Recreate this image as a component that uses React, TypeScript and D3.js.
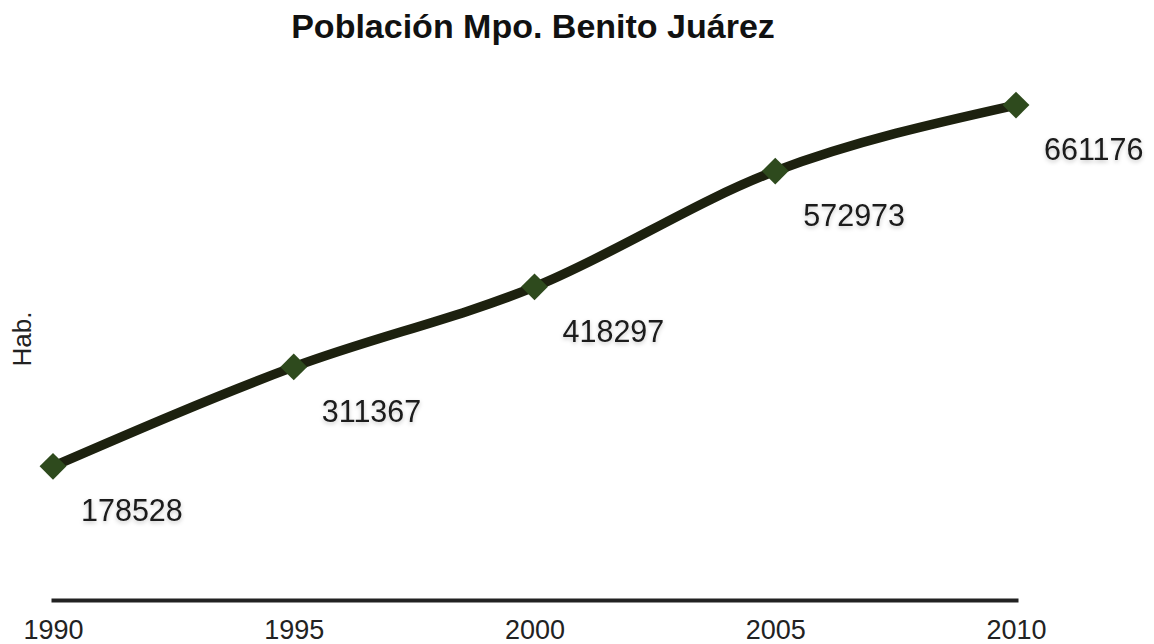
import React, { useEffect, useRef } from "react";
import * as d3 from "d3";

const years = [1990, 1995, 2000, 2005, 2010];
const population = [178528, 311367, 418297, 572973, 661176];

const App = () => {
  const chart = useRef<SVGSVGElement>(null);

  useEffect(() => {
    const width = 1154;
    const height = 644;
    const font = "'Liberation Sans', Arial, Helvetica, sans-serif";

    const svg = d3.select(chart.current).attr("width", width).attr("height", height);
    svg.selectAll("*").remove();

    // soft shadow under value labels
    const defs = svg.append("defs");
    defs
      .append("filter")
      .attr("id", "shadow")
      .attr("x", "-20%")
      .attr("y", "-30%")
      .attr("width", "140%")
      .attr("height", "170%")
      .append("feDropShadow")
      .attr("dx", 0)
      .attr("dy", 2)
      .attr("stdDeviation", 2)
      .attr("flood-color", "#000")
      .attr("flood-opacity", 0.22);

    const x = d3.scaleLinear().domain([1990, 2010]).range([53, 1016]);
    const y = d3.scaleLinear().domain([0, 700000]).range([600, 76]);

    const data = years.map((yr, i) => ({ year: yr, value: population[i] }));

    // title
    svg
      .append("text")
      .attr("x", 533)
      .attr("y", 38)
      .attr("text-anchor", "middle")
      .attr("font-family", font)
      .attr("font-weight", "bold")
      .attr("font-size", 34)
      .attr("fill", "#111")
      .text("Población Mpo. Benito Juárez");

    // y label
    svg
      .append("text")
      .attr("transform", "translate(31, 339) rotate(-90)")
      .attr("text-anchor", "middle")
      .attr("font-family", font)
      .attr("font-size", 26)
      .attr("fill", "#222")
      .text("Hab.");

    // x axis
    const xAxis = d3.axisBottom(x).tickValues(years).tickFormat(d3.format("d")).tickSize(0).tickSizeOuter(0);
    const ax = svg.append("g").attr("transform", `translate(0, ${y(0)})`).call(xAxis);
    ax.select(".domain").attr("stroke", "#222").attr("stroke-width", 4).attr("stroke-linecap", "square");
    ax.selectAll("text")
      .attr("font-family", font)
      .attr("font-size", 27)
      .attr("fill", "#222")
      .attr("y", 20);

    // line
    const line = d3
      .line<{ year: number; value: number }>()
      .x((d) => x(d.year))
      .y((d) => y(d.value))
      .curve(d3.curveMonotoneX);

    svg
      .append("path")
      .datum(data)
      .attr("d", line)
      .attr("fill", "none")
      .attr("stroke", "#1d210f")
      .attr("stroke-width", 9.5)
      .attr("stroke-linejoin", "round");

    // markers
    const diamond = d3.symbol().type(d3.symbolSquare).size(19 * 19);
    svg
      .selectAll("path.marker")
      .data(data)
      .join("path")
      .attr("class", "marker")
      .attr("d", diamond)
      .attr("transform", (d) => `translate(${x(d.year)}, ${y(d.value)}) rotate(45)`)
      .attr("fill", "#2e4a1d");

    // value labels
    svg
      .selectAll("text.value")
      .data(data)
      .join("text")
      .attr("class", "value")
      .attr("x", (d) => x(d.year) + 28)
      .attr("y", (d) => y(d.value) + 55)
      .attr("font-family", font)
      .attr("font-size", 30.5)
      .attr("fill", "#1a1a1a")
      .attr("filter", "url(#shadow)")
      .text((d) => d.value);
  }, []);

  return (
    <div>
      <svg ref={chart} style={{ position: "absolute", left: 0, top: 0, background: "#fff" }}></svg>
    </div>
  );
};

export default App;
